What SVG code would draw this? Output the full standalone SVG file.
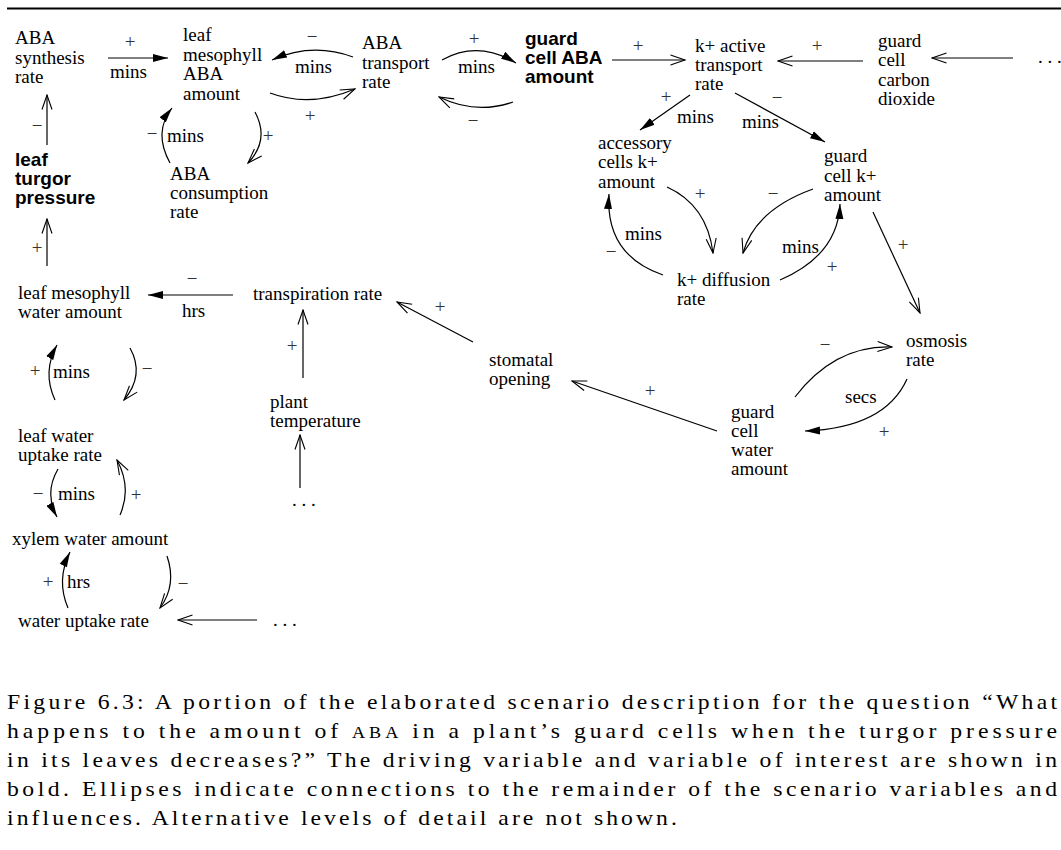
<svg xmlns="http://www.w3.org/2000/svg" width="1061" height="850" viewBox="0 0 1061 850">
  <style>
    .node { font-family: "Liberation Serif", "Times New Roman", serif; font-size: 19px; fill: #000; }
    .bold { font-family: "Liberation Sans", Arial, sans-serif; font-size: 19px; font-weight: bold; fill: #000; }
    .sign { font-family: "Liberation Serif", "Times New Roman", serif; font-size: 19px; fill: #333; text-anchor: middle; }
    .lag { font-family: "Liberation Serif", "Times New Roman", serif; font-size: 19px; fill: #000; }
    .edge { fill: none; stroke: #000; stroke-width: 1.2; }
    .fast { marker-end: url(#solid); }
    .slow { marker-end: url(#open); }
    .caption { font-family: "Liberation Serif", "Times New Roman", serif; font-size: 21.5px; fill: #000; }
  </style>
  <defs>
    <marker id="solid" markerUnits="userSpaceOnUse" markerWidth="16" markerHeight="10" viewBox="0 0 16 10" refX="15" refY="5" orient="auto">
      <path d="M0,1 L15,5 L0,9 Z" fill="#000"/>
    </marker>
    <marker id="open" markerUnits="userSpaceOnUse" markerWidth="17" markerHeight="12" viewBox="0 0 17 12" refX="15.5" refY="6" orient="auto">
      <path d="M1,1 L15.5,6 L1,11" fill="none" stroke="#000" stroke-width="1.1"/>
    </marker>
  </defs>

  <rect width="1061" height="850" fill="#fff"/>
  <line x1="7" y1="8.5" x2="1061" y2="8.5" stroke="#000" stroke-width="2"/>

  <!-- variables -->
  <g id="aba-synthesis-rate"><text class="node"><tspan x="15" y="44">ABA</tspan><tspan x="15" y="64">synthesis</tspan><tspan x="15" y="83">rate</tspan></text></g>
  <g id="leaf-mesophyll-aba"><text class="node"><tspan x="183" y="41">leaf</tspan><tspan x="183" y="60.5">mesophyll</tspan><tspan x="183" y="80">ABA</tspan><tspan x="183" y="99.5">amount</tspan></text></g>
  <g id="aba-transport-rate"><text class="node"><tspan x="362" y="49">ABA</tspan><tspan x="362" y="69">transport</tspan><tspan x="362" y="88">rate</tspan></text></g>
  <g id="guard-cell-aba"><text class="bold"><tspan x="525" y="45">guard</tspan><tspan x="525" y="64">cell ABA</tspan><tspan x="525" y="83">amount</tspan></text></g>
  <g id="k-active-transport"><text class="node"><tspan x="695" y="52">k+ active</tspan><tspan x="695" y="71">transport</tspan><tspan x="695" y="90">rate</tspan></text></g>
  <g id="guard-cell-co2"><text class="node"><tspan x="878" y="47">guard</tspan><tspan x="878" y="66">cell</tspan><tspan x="878" y="86">carbon</tspan><tspan x="878" y="105">dioxide</tspan></text></g>
  <g id="leaf-turgor-pressure"><text class="bold"><tspan x="15" y="166">leaf</tspan><tspan x="15" y="185">turgor</tspan><tspan x="15" y="204">pressure</tspan></text></g>
  <g id="aba-consumption-rate"><text class="node"><tspan x="170" y="180">ABA</tspan><tspan x="170" y="199">consumption</tspan><tspan x="170" y="218">rate</tspan></text></g>
  <g id="accessory-cells-k"><text class="node"><tspan x="598" y="149">accessory</tspan><tspan x="598" y="168">cells k+</tspan><tspan x="598" y="188">amount</tspan></text></g>
  <g id="guard-cell-k"><text class="node"><tspan x="824" y="162">guard</tspan><tspan x="824" y="182">cell k+</tspan><tspan x="824" y="201">amount</tspan></text></g>
  <g id="k-diffusion-rate"><text class="node"><tspan x="677" y="286">k+ diffusion</tspan><tspan x="677" y="305">rate</tspan></text></g>
  <g id="leaf-mesophyll-water"><text class="node"><tspan x="18" y="299">leaf mesophyll</tspan><tspan x="18" y="318">water amount</tspan></text></g>
  <g id="transpiration-rate"><text class="node" x="253" y="300">transpiration rate</text></g>
  <g id="stomatal-opening"><text class="node"><tspan x="489" y="366">stomatal</tspan><tspan x="489" y="385">opening</tspan></text></g>
  <g id="osmosis-rate"><text class="node"><tspan x="906" y="347">osmosis</tspan><tspan x="906" y="366">rate</tspan></text></g>
  <g id="plant-temperature"><text class="node"><tspan x="270" y="408">plant</tspan><tspan x="270" y="427">temperature</tspan></text></g>
  <g id="guard-cell-water"><text class="node"><tspan x="731" y="418">guard</tspan><tspan x="731" y="437">cell</tspan><tspan x="731" y="456">water</tspan><tspan x="731" y="475">amount</tspan></text></g>
  <g id="leaf-water-uptake"><text class="node"><tspan x="18" y="442">leaf water</tspan><tspan x="18" y="461">uptake rate</tspan></text></g>
  <g id="xylem-water"><text class="node" x="12" y="545">xylem water amount</text></g>
  <g id="water-uptake-rate"><text class="node" x="18" y="627">water uptake rate</text></g>
  <g id="more-co2"><text class="node" x="1038" y="63">. . .</text></g>
  <g id="more-temperature"><text class="node" x="292" y="506">. . .</text></g>
  <g id="more-uptake"><text class="node" x="273" y="626">. . .</text></g>

  <!-- influences -->
  <g id="connectors">
    <path class="edge fast" d="M108,58 L168,58"/>
    <path class="edge fast" d="M353,57 Q312,42 272,60"/>
    <path class="edge slow" d="M270,93 Q310,108 355,89"/>
    <path class="edge fast" d="M170,163 Q153,132 172,108"/>
    <path class="edge slow" d="M255,112 Q270,140 248,163"/>
    <path class="edge slow" d="M47,145 L47,95"/>
    <path class="edge slow" d="M47,266 L47,219"/>
    <path class="edge fast" d="M233,295 L148,295"/>
    <path class="edge slow" d="M130,348 Q145,375 124,400"/>
    <path class="edge fast" d="M55,400 Q42,372 57,345"/>
    <path class="edge slow" d="M303,378 L303,310"/>
    <path class="edge slow" d="M300,488 L300,435"/>
    <path class="edge slow" d="M473,342 L397,302"/>
    <path class="edge slow" d="M717,431 L572,381"/>
    <path class="edge fast" d="M58,469 Q44,493 57,517"/>
    <path class="edge slow" d="M120,515 Q132,488 117,460"/>
    <path class="edge slow" d="M167,556 Q177,585 160,608"/>
    <path class="edge fast" d="M68,608 Q56,580 70,552"/>
    <path class="edge slow" d="M257,620 L178,620"/>
    <path class="edge fast" d="M442,60 Q478,40 516,63"/>
    <path class="edge slow" d="M513,102 Q476,115 439,97"/>
    <path class="edge slow" d="M612,60 L685,60"/>
    <path class="edge slow" d="M863,61 L778,61"/>
    <path class="edge slow" d="M1013,58 L932,58"/>
    <path class="edge fast" d="M690,95 L640,130"/>
    <path class="edge fast" d="M735,93 L825,142"/>
    <path class="edge slow" d="M667,187 Q707,205 713,253"/>
    <path class="edge slow" d="M813,189 Q755,210 743,253"/>
    <path class="edge fast" d="M663,275 Q605,255 609,194"/>
    <path class="edge fast" d="M780,280 Q838,255 840,204"/>
    <path class="edge slow" d="M873,212 L920,313"/>
    <path class="edge slow" d="M795,397 Q835,345 892,347"/>
    <path class="edge fast" d="M907,379 Q885,428 805,431"/>

    <!-- signs and time scales -->
    <text class="sign" x="130" y="48">+</text><text class="lag" x="110" y="78">mins</text>
    <text class="sign" x="312" y="43">−</text><text class="lag" x="295" y="73">mins</text>
    <text class="sign" x="310" y="122">+</text>
    <text class="sign" x="152" y="140">−</text><text class="lag" x="167" y="142">mins</text>
    <text class="sign" x="268" y="142">+</text>
    <text class="sign" x="37" y="132">−</text>
    <text class="sign" x="37" y="254">+</text>
    <text class="sign" x="192" y="285">−</text><text class="lag" x="182" y="317">hrs</text>
    <text class="sign" x="147" y="375">−</text>
    <text class="sign" x="35" y="377">+</text><text class="lag" x="53" y="378">mins</text>
    <text class="sign" x="292" y="352">+</text>
    <text class="sign" x="440" y="313">+</text>
    <text class="sign" x="650" y="397">+</text>
    <text class="sign" x="38" y="500">−</text><text class="lag" x="58" y="500">mins</text>
    <text class="sign" x="136" y="501">+</text>
    <text class="sign" x="183" y="590">−</text>
    <text class="sign" x="48" y="588">+</text><text class="lag" x="67" y="588">hrs</text>
    <text class="sign" x="474" y="45">+</text><text class="lag" x="458" y="73">mins</text>
    <text class="sign" x="473" y="127">−</text>
    <text class="sign" x="638" y="52">+</text>
    <text class="sign" x="817" y="52">+</text>
    <text class="sign" x="666" y="103">+</text><text class="lag" x="677" y="123">mins</text>
    <text class="sign" x="777" y="104">−</text><text class="lag" x="742" y="128">mins</text>
    <text class="sign" x="700" y="200">+</text>
    <text class="sign" x="773" y="200">−</text>
    <text class="sign" x="611" y="258">−</text><text class="lag" x="625" y="240">mins</text>
    <text class="sign" x="832" y="273">+</text><text class="lag" x="782" y="253">mins</text>
    <text class="sign" x="903" y="251">+</text>
    <text class="sign" x="825" y="351">−</text>
    <text class="sign" x="884" y="438">+</text><text class="lag" x="845" y="403">secs</text>
  </g>

  <!-- caption, set a little wide like the book face -->
  <g id="caption" transform="scale(1.1 1)">
    <text class="caption" x="6.4" y="709" textLength="954.5" lengthAdjust="spacing">Figure 6.3: A portion of the elaborated scenario description for the question “What</text>
    <text class="caption" x="6.4" y="738" textLength="954.5" lengthAdjust="spacing">happens to the amount of <tspan font-size="16.5">ABA</tspan> in a plant’s guard cells when the turgor pressure</text>
    <text class="caption" x="6.4" y="767" textLength="954.5" lengthAdjust="spacing">in its leaves decreases?”  The driving variable and variable of interest are shown in</text>
    <text class="caption" x="6.4" y="796" textLength="954.5" lengthAdjust="spacing">bold.  Ellipses indicate connections to the remainder of the scenario variables and</text>
    <text class="caption" x="6.4" y="825" textLength="609" lengthAdjust="spacing">influences.  Alternative levels of detail are not shown.</text>
  </g>
</svg>
